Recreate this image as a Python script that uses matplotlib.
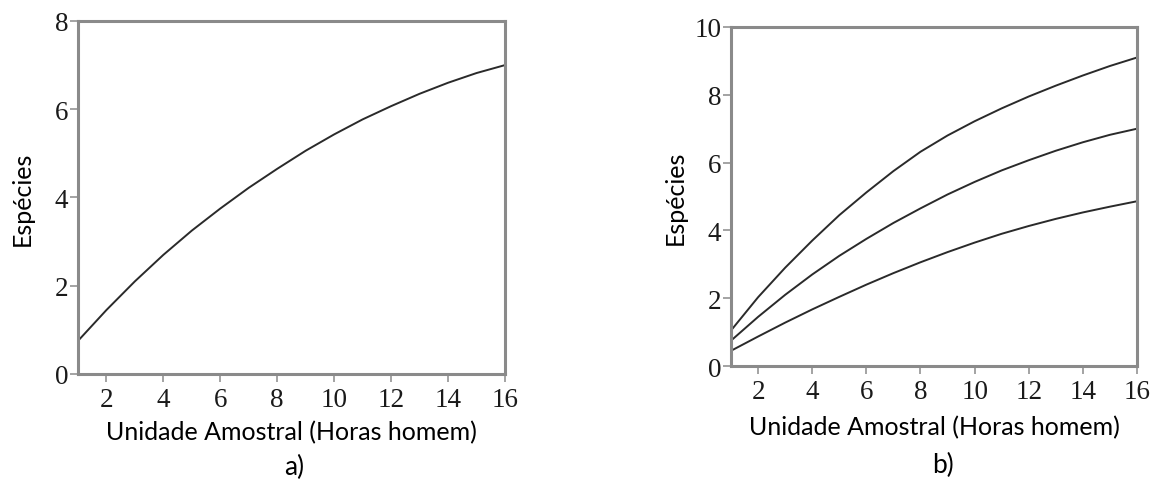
import numpy as np
import matplotlib
matplotlib.use("Agg")
import matplotlib.pyplot as plt

# valores (x = 1..16)
horas = list(range(1, 17))
especies_a = [0.75, 1.45, 2.10, 2.70, 3.25, 3.75, 4.22, 4.65,
              5.06, 5.43, 5.77, 6.07, 6.35, 6.60, 6.82, 7.00]
especies_b_sup = [1.05, 2.03, 2.90, 3.70, 4.45, 5.12, 5.75, 6.32,
                  6.80, 7.22, 7.60, 7.95, 8.27, 8.57, 8.85, 9.10]
especies_b_med = especies_a
especies_b_inf = [0.45, 0.87, 1.28, 1.67, 2.04, 2.40, 2.74, 3.06,
                  3.36, 3.64, 3.90, 4.13, 4.34, 4.53, 4.70, 4.86]

xticks = [2, 4, 6, 8, 10, 12, 14, 16]
yticks_a = [0, 2, 4, 6, 8]
yticks_b = [0, 2, 4, 6, 8, 10]

label_font = "Lato"
tick_font = "Liberation Serif"
spine_cor = "#8a8a8a"
linha_cor = "#2a2a2a"


def estilo(ax, yticks, ylim):
    ax.set_xlim(1, 16)
    ax.set_ylim(*ylim)
    ax.set_xticks(xticks)
    ax.set_yticks(yticks)
    for s in ax.spines.values():
        s.set_color(spine_cor)
        s.set_linewidth(2.2)
    ax.tick_params(axis="both", direction="out", color=spine_cor, width=1.1,
                   length=5.5, labelsize=19.5, labelcolor="#1a1a1a")
    ax.tick_params(axis="x", pad=4)
    ax.tick_params(axis="y", pad=1.5)
    for lbl in ax.get_xticklabels() + ax.get_yticklabels():
        lbl.set_family(tick_font)
    ax.set_xlabel("Unidade Amostral (Horas homem)", family=label_font, fontsize=18)
    ax.set_ylabel("Espécies", family=label_font, fontsize=18)
    ax.xaxis.label.set_verticalalignment("center")
    ax.yaxis.label.set_verticalalignment("center")


fig = plt.figure(figsize=(11.5, 4.81), dpi=100)

# a)
ax1 = fig.add_axes([0.0678, 0.2204, 0.3713, 0.7339])
ax1.plot(horas, especies_a, color=linha_cor, lw=1.4)
estilo(ax1, yticks_a, (0, 8))
ax1.xaxis.set_label_coords(0.5, -0.164)
ax1.yaxis.set_label_coords(-0.131, 0.5)

# b)
ax2 = fig.add_axes([0.6357, 0.2370, 0.3530, 0.7048])
for serie in (especies_b_sup, especies_b_med, especies_b_inf):
    ax2.plot(horas, serie, color=linha_cor, lw=1.4)
estilo(ax2, yticks_b, (0, 10))
ax2.xaxis.set_label_coords(0.5, -0.178)
ax2.yaxis.set_label_coords(-0.138, 0.5)

fig.text(294 / 1150, 1 - 467 / 481, "a)", family=label_font, fontsize=19,
         ha="center", va="center")
fig.text(943 / 1150, 1 - 465 / 481, "b)", family=label_font, fontsize=19,
         ha="center", va="center")

fig.savefig("out.png", dpi=100)
